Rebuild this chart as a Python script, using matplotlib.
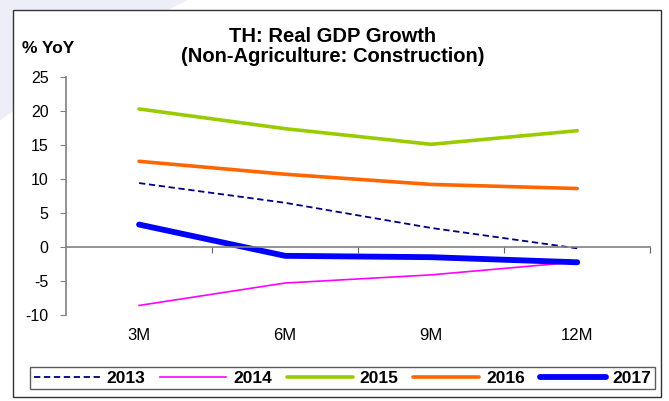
import matplotlib.pyplot as plt
from matplotlib.patches import Rectangle, Polygon
from matplotlib.transforms import blended_transform_factory

plt.rcParams['font.family'] = ['Liberation Sans', 'DejaVu Sans']
plt.rcParams['axes.unicode_minus'] = False

# data: real GDP growth, construction, % YoY by cumulative period
periods = ['3M', '6M', '9M', '12M']
g2013 = [9.4, 6.5, 2.8, -0.2]
g2014 = [-8.6, -5.3, -4.1, -2.2]
g2015 = [20.3, 17.4, 15.1, 17.1]
g2016 = [12.6, 10.7, 9.2, 8.6]
g2017 = [3.3, -1.3, -1.5, -2.25]

fig = plt.figure(figsize=(6.69, 4.01), dpi=100)

# faint backdrop shape in the top-left corner
fig.patches.append(Polygon([(0, 1), (0.28, 1), (0.2, 0.93), (0.0, 0.7)],
                           closed=True, transform=fig.transFigure,
                           facecolor='#EEEEF8', edgecolor='none', zorder=-2))
# outer frame
fig.patches.append(Rectangle((0.019, 0.01), 0.969, 0.965, transform=fig.transFigure,
                             fill=True, facecolor='white', edgecolor='#333333',
                             linewidth=1.0, zorder=-1))

ax = fig.add_axes([0.0987, 0.2145, 0.8733, 0.5935])
ax.patch.set_alpha(0)

x = [0.5, 1.5, 2.5, 3.5]
ax.plot(x, g2013, color='#000080', lw=1.3, ls=(0, (3.5, 2)), label='2013')
ax.plot(x, g2014, color='#FF00FF', lw=1.2, label='2014')
ax.plot(x, g2015, color='#99CC00', lw=2.6, solid_capstyle='round', label='2015')
ax.plot(x, g2016, color='#FF6600', lw=2.6, solid_capstyle='round', label='2016')
ax.plot(x, g2017, color='#0000FF', lw=4.2, solid_capstyle='round', label='2017')

ax.set_xlim(0, 4)
ax.set_ylim(-10, 25)
ax.set_yticks(range(-10, 30, 5))
for s in ['top', 'right']:
    ax.spines[s].set_visible(False)
ax.spines['bottom'].set_position(('data', 0))
ax.spines['left'].set_color('#808080')
ax.spines['bottom'].set_color('#808080')
ax.spines['left'].set_linewidth(1.2)
ax.spines['bottom'].set_linewidth(1.2)
ax.tick_params(axis='y', direction='out', length=4.5, color='#808080',
               labelsize=11.5, pad=8)
ax.set_xticks([1, 2, 3, 4])
ax.set_xticklabels([])
ax.tick_params(axis='x', direction='out', length=4, color='#606060')

# category labels sit below the plot area
trans = blended_transform_factory(ax.transData, ax.transAxes)
for xi, lab in zip(x, periods):
    ax.text(xi, -0.085, lab, transform=trans, ha='center', va='center', fontsize=12)

fig.text(0.497, 0.884, 'TH: Real GDP Growth\n(Non-Agriculture: Construction)',
         ha='center', va='center', fontsize=14.5, fontweight='bold', linespacing=1.02)
fig.text(0.033, 0.878, '% YoY', ha='left', va='center', fontsize=12.5, fontweight='bold')

leg = fig.legend(loc='center', bbox_to_anchor=(0.512, 0.057), ncol=5,
                 prop={'weight': 'bold', 'size': 12.5}, frameon=True, fancybox=False,
                 handlelength=3.8, handletextpad=0.4, columnspacing=0.85,
                 borderpad=0.2, borderaxespad=0)
leg.get_frame().set_edgecolor('#333333')
leg.get_frame().set_linewidth(1.0)

fig.savefig('out.png', dpi=100)
